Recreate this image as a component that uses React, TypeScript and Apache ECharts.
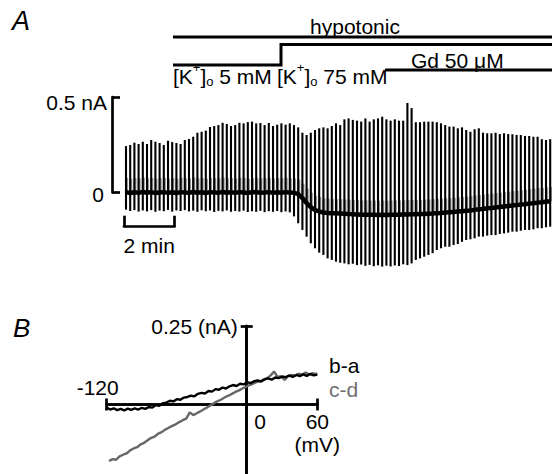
import React, { useEffect, useRef } from 'react';
import * as echarts from 'echarts';

const FONT = '"Liberation Sans", Arial, Helvetica, sans-serif';
const FS = 21;

// ---- Panel A: ramp sweeps (one per ~10 s), current in nA ----
const sweepTop = [
  0.243, 0.249, 0.261, 0.254, 0.266, 0.254, 0.275, 0.266, 0.259, 0.249,
  0.271, 0.264, 0.259, 0.254, 0.275, 0.280, 0.292, 0.313, 0.318, 0.324,
  0.343, 0.348, 0.353, 0.365, 0.359, 0.348, 0.353, 0.365, 0.362, 0.369,
  0.371, 0.362, 0.364, 0.353, 0.364, 0.348, 0.355, 0.362, 0.355, 0.362,
  0.353, 0.341, 0.313, 0.301, 0.313, 0.327, 0.336, 0.341, 0.336, 0.348,
  0.362, 0.353, 0.383, 0.388, 0.380, 0.376, 0.371, 0.388, 0.371, 0.383,
  0.388, 0.397, 0.383, 0.376, 0.383, 0.376, 0.376, 0.469, 0.442, 0.368,
  0.368, 0.371, 0.371, 0.371, 0.368, 0.362, 0.353, 0.345, 0.345, 0.336,
  0.341, 0.327, 0.318, 0.331, 0.336, 0.313, 0.310, 0.310, 0.313, 0.306,
  0.310, 0.306, 0.305, 0.301, 0.301, 0.296, 0.296, 0.292, 0.292, 0.279,
  0.275, 0.279,
];
const sweepBottom = [
  -0.090, -0.097, -0.092, -0.100, -0.094, -0.099, -0.092, -0.101, -0.095, -0.098,
  -0.091, -0.100, -0.094, -0.097, -0.092, -0.099, -0.095, -0.101, -0.093, -0.098,
  -0.094, -0.102, -0.096, -0.099, -0.094, -0.101, -0.097, -0.100, -0.095, -0.102,
  -0.098, -0.101, -0.096, -0.103, -0.098, -0.101, -0.097, -0.103, -0.099, -0.104,
  -0.125, -0.161, -0.196, -0.231, -0.266, -0.292, -0.315, -0.327, -0.345, -0.353,
  -0.362, -0.368, -0.371, -0.376, -0.373, -0.380, -0.377, -0.384, -0.379, -0.386,
  -0.381, -0.388, -0.383, -0.387, -0.382, -0.385, -0.376, -0.380, -0.371, -0.353,
  -0.345, -0.336, -0.327, -0.318, -0.301, -0.292, -0.284, -0.284, -0.275, -0.270,
  -0.258, -0.249, -0.245, -0.240, -0.231, -0.231, -0.226, -0.223, -0.223, -0.217,
  -0.214, -0.210, -0.205, -0.205, -0.200, -0.196, -0.196, -0.193, -0.187, -0.187,
  -0.182, -0.179,
];
const holdingCurrent = [
  0.002, -0.003, 0.001, -0.002, 0.003, -0.001, 0.002, -0.003, 0.000, 0.002,
  -0.002, 0.001, -0.003, 0.002, 0.000, -0.002, 0.003, -0.001, 0.001, -0.003,
  0.002, 0.000, -0.002, 0.003, -0.001, 0.001, -0.002, 0.002, 0.000, -0.003,
  0.001, 0.002, -0.001, 0.000, 0.002, -0.002, 0.001, -0.001, 0.002, 0.000,
  -0.002, -0.008, -0.029, -0.055, -0.076, -0.092, -0.099, -0.105, -0.107, -0.108,
  -0.109, -0.110, -0.111, -0.113, -0.114, -0.115, -0.116, -0.116, -0.117, -0.117,
  -0.118, -0.117, -0.118, -0.117, -0.116, -0.116, -0.115, -0.115, -0.114, -0.114,
  -0.113, -0.112, -0.111, -0.110, -0.108, -0.107, -0.105, -0.104, -0.102, -0.100,
  -0.098, -0.096, -0.094, -0.091, -0.088, -0.086, -0.083, -0.081, -0.078, -0.076,
  -0.073, -0.071, -0.068, -0.066, -0.063, -0.061, -0.058, -0.056, -0.053, -0.051,
  -0.048, -0.046,
];
// height of the dense (slow) part of each ramp above the holding current
const rampDenseHeight = 0.075;
const sweepMarks = ['a', 'b', 'c', 'd'];
const sweepMarkIndex = [6.9, 38.6, 64.8, 100];
const sweepMarkLevel = [0.296, 0.411, 0.442, 0.348];
const currentScaleLabels = ['0', '0.5 nA'];
const timeScaleLabel = '2 min';

// ---- Panel B: I-V difference curves ----
const ivVoltageBA = [
  -120, -117, -114, -111, -108, -105, -102, -99, -96, -93, -90, -87, -84, -81, -78, -75,
  -72, -69, -66, -63, -60, -57, -54, -51, -48, -45, -42, -39, -36, -33, -30, -27, -24,
  -21, -18, -15, -12, -9, -6, -3, 0, 3, 6, 9, 12, 15, 18, 21, 24, 27, 30, 33, 36, 39,
  42, 45, 48, 51, 54, 57, 60,
];
const ivCurrentBA = [
  -0.010, -0.016, -0.012, -0.018, -0.014, -0.019, -0.013, -0.017, -0.012, -0.016,
  -0.011, -0.014, -0.008, -0.010, -0.002, -0.004, 0.004, 0.006, 0.012, 0.010,
  0.017, 0.015, 0.022, 0.024, 0.028, 0.026, 0.034, 0.037, 0.035, 0.043,
  0.041, 0.049, 0.047, 0.054, 0.051, 0.058, 0.062, 0.059, 0.066, 0.064,
  0.071, 0.068, 0.074, 0.077, 0.073, 0.080, 0.083, 0.079, 0.086, 0.084,
  0.089, 0.087, 0.092, 0.088, 0.094, 0.090, 0.096, 0.091, 0.097, 0.093,
  0.095,
];
const ivVoltageCD = [
  -118, -115, -112, -109, -106, -103, -100, -97, -94, -91, -88, -85, -82, -79, -76, -73,
  -70, -67, -64, -61, -58, -55, -52, -49, -46, -43, -40, -37, -34, -31, -28, -25, -22,
  -19, -16, -13, -10, -7, -4, -1, 2, 5, 8, 11, 14, 17, 20, 23, 26, 29, 32, 35, 38, 41,
  44, 47, 50, 53, 56, 59, 60,
];
const ivCurrentCD = [
  -0.180, -0.174, -0.176, -0.165, -0.160, -0.156, -0.146, -0.140, -0.136, -0.127,
  -0.122, -0.114, -0.106, -0.102, -0.093, -0.088, -0.080, -0.074, -0.068, -0.063,
  -0.056, -0.050, -0.045, -0.025, -0.034, -0.028, -0.022, -0.015, -0.009, -0.002,
  0.005, 0.011, 0.016, 0.023, 0.028, 0.034, 0.040, 0.045, 0.051, 0.056,
  0.062, 0.066, 0.071, 0.074, 0.079, 0.084, 0.092, 0.105, 0.088, 0.090,
  0.078, 0.091, 0.094, 0.092, 0.098, 0.095, 0.102, 0.096, 0.100, 0.097,
  0.099,
];
const ivSeriesNames = ['b-a', 'c-d'];
const ivColors = ['#000000', '#676767'];
const ivXLabelLeft = '-120';
const ivXLabelZero = '0';
const ivXLabelRight = '60';
const ivXUnit = '(mV)';
const ivYLabel = '0.25 (nA)';

// ---- Solution bars ----
const barHypotonic = 'hypotonic';
const barK5 = '5 mM';
const barK75 = '75 mM';
const barGd = 'Gd 50 \u03bcM';

const BLACK = '#000';
const AXW = 2.7;

export default function App() {
  const ref = useRef<HTMLDivElement>(null);
  useEffect(() => {
    if (!ref.current) return;
    const chart = echarts.init(ref.current, null, { renderer: 'svg' });
    const axisLineStyle = { color: BLACK, width: AXW };
    const txt = { fontFamily: FONT, fontSize: FS, color: BLACK };
    const kRich = {
      sup: { fontSize: 13, fontFamily: FONT, padding: [0, 0, 18, 0], lineHeight: 13 },
      sub: { fontSize: 13, fontFamily: FONT, padding: [11, 0, 0, 0], lineHeight: 13 },
    };

    const option: any = {
      animation: false,
      textStyle: { fontFamily: FONT },
      grid: [
        { left: 126, top: 97, width: 424.2, height: 95.5, outerBoundsMode: 'none' },
        { left: 124, top: 150, width: 50.5, height: 76.7, outerBoundsMode: 'none' },
        { left: 106.7, top: 326, width: 210.6, height: 78.5, outerBoundsMode: 'none' },
        { left: 246.7, top: 326, width: 70.6, height: 157, outerBoundsMode: 'none' },
      ],
      xAxis: [
        { gridIndex: 0, type: 'value', min: 0, max: sweepTop.length - 1, show: false },
        {
          gridIndex: 1, type: 'value', min: 0, max: 2, interval: 2, position: 'bottom',
          axisLine: { show: true, onZero: false, lineStyle: axisLineStyle },
          axisTick: { show: true, inside: true, length: 11, lineStyle: axisLineStyle },
          axisLabel: { show: false }, splitLine: { show: false },
          name: timeScaleLabel, nameLocation: 'middle', nameGap: 8,
          nameTextStyle: { ...txt },
        },
        {
          gridIndex: 2, type: 'value', min: -120, max: 60, interval: 180, position: 'bottom',
          axisLine: { show: true, onZero: false, lineStyle: axisLineStyle },
          axisTick: { show: true, inside: false, length: 6, lineStyle: axisLineStyle },
          axisLabel: {
            show: true, customValues: [0, 60], margin: 5, ...txt,
            formatter: (v: number) => (v === 0 ? `{z|${ivXLabelZero}}` : `{n|${ivXLabelRight}}\n{n|${ivXUnit}}`),
            rich: {
              z: { fontSize: FS, fontFamily: FONT, color: BLACK, padding: [0, 0, 0, 26], lineHeight: 23 },
              n: { fontSize: FS, fontFamily: FONT, color: BLACK, lineHeight: 23 },
            },
          },
          splitLine: { show: false },
        },
        {
          gridIndex: 2, type: 'value', min: -120, max: 60, interval: 180, position: 'bottom',
          axisLine: { show: true, onZero: false, lineStyle: axisLineStyle },
          axisTick: { show: true, inside: true, length: 6, lineStyle: axisLineStyle },
          axisLabel: {
            show: true, inside: true, customValues: [-120], margin: 7, ...txt,
            padding: [0, 18, 0, 0],
            formatter: () => ivXLabelLeft,
          },
          splitLine: { show: false },
        },
        { gridIndex: 3, type: 'value', min: 0, max: 1, show: false },
      ],
      yAxis: [
        {
          gridIndex: 0, type: 'value', min: 0, max: 0.5, interval: 0.5, position: 'left', offset: 14,
          axisLine: { show: true, onZero: false, lineStyle: axisLineStyle },
          axisTick: { show: true, inside: true, length: 8, lineStyle: axisLineStyle },
          axisLabel: {
            show: true, margin: 5, ...txt,
            formatter: (v: number) => (v === 0 ? `{z|${currentScaleLabels[0]}}` : `{t|${currentScaleLabels[1]}}`),
            rich: {
              z: { fontSize: FS, fontFamily: FONT, color: BLACK, padding: [3, 3, 0, 0] },
              t: { fontSize: FS, fontFamily: FONT, color: BLACK, padding: [10, 0, 0, 0] },
            },
          },
          splitLine: { show: false },
        },
        { gridIndex: 1, type: 'value', min: 0, max: 1, show: false },
        { gridIndex: 2, type: 'value', min: 0, max: 0.25, show: false },
        {
          gridIndex: 3, type: 'value', min: -0.25, max: 0.25, interval: 0.25, position: 'left',
          axisLine: { show: true, onZero: false, lineStyle: axisLineStyle },
          axisTick: { show: true, inside: false, length: 6, customValues: [0.25], lineStyle: axisLineStyle },
          axisLabel: { show: true, customValues: [0.25], margin: 9, ...txt, formatter: () => ivYLabel },
          splitLine: { show: false },
        },
        {
          gridIndex: 3, type: 'value', min: -0.25, max: 0.25, interval: 0.25, position: 'left',
          axisLine: { show: true, onZero: false, lineStyle: axisLineStyle },
          axisTick: { show: true, inside: true, length: 6, customValues: [0.25], lineStyle: axisLineStyle },
          axisLabel: { show: false },
          splitLine: { show: false },
        },
      ],
      legend: {
        data: [
          { name: ivSeriesNames[0], textStyle: { color: ivColors[0] } },
          { name: ivSeriesNames[1], textStyle: { color: '#707070' } },
        ],
        orient: 'vertical', left: 324, top: 355, icon: 'none', itemWidth: 0, itemHeight: 0,
        itemGap: 3, padding: 0, selectedMode: false,
        textStyle: { fontSize: FS, fontFamily: FONT, lineHeight: 21 },
      },
      series: [
        {
          type: 'custom', xAxisIndex: 0, yAxisIndex: 0, clip: false, z: 2,
          data: sweepTop.map((t, i) => [i, sweepBottom[i], t, holdingCurrent[i]]),
          renderItem: (_p: any, api: any) => {
            const x = api.value(0);
            const a = api.coord([x, api.value(1)]);
            const b = api.coord([x, api.value(2)]);
            const h0 = api.coord([x, api.value(3)]);
            const h1 = api.coord([x, api.value(3) + rampDenseHeight]);
            return {
              type: 'group',
              children: [
                {
                  type: 'line',
                  shape: { x1: h0[0] + 0.6, y1: h0[1], x2: h1[0] + 0.6, y2: h1[1] },
                  style: { stroke: '#9c9c9c', lineWidth: 3 },
                },
                {
                  type: 'line',
                  shape: { x1: a[0], y1: a[1], x2: b[0], y2: b[1] },
                  style: { stroke: BLACK, lineWidth: 2.1 },
                },
              ],
            };
          },
        },
        {
          type: 'line', xAxisIndex: 0, yAxisIndex: 0, clip: false, z: 3, symbol: 'none',
          data: holdingCurrent.map((v, i) => [i, v]),
          lineStyle: { color: BLACK, width: 4.5 },
        },
        {
          type: 'scatter', xAxisIndex: 0, yAxisIndex: 0, symbolSize: 1, z: 4,
          itemStyle: { opacity: 0 },
          data: sweepMarks.map((m, i) => ({ name: m, value: [sweepMarkIndex[i], sweepMarkLevel[i]] })),
          label: { show: true, position: 'inside', formatter: '{b}', ...txt },
        },
        {
          type: 'line', name: ivSeriesNames[0], xAxisIndex: 2, yAxisIndex: 2, symbol: 'none', z: 3, clip: false,
          data: ivVoltageBA.map((v, i) => [v, ivCurrentBA[i]]),
          lineStyle: { color: ivColors[0], width: 2.4 }, itemStyle: { color: ivColors[0] },
        },
        {
          type: 'line', name: ivSeriesNames[1], xAxisIndex: 2, yAxisIndex: 2, symbol: 'none', z: 2, clip: false,
          data: ivVoltageCD.map((v, i) => [v, ivCurrentCD[i]]),
          lineStyle: { color: ivColors[1], width: 2.4 }, itemStyle: { color: ivColors[1] },
        },
      ],
      graphic: [
        { type: 'text', left: 12, top: 7, style: { text: 'A', font: `italic 27px ${FONT}`, fill: BLACK } },
        { type: 'text', left: 13, top: 315, style: { text: 'B', font: `italic 26px ${FONT}`, fill: BLACK } },
        { type: 'text', x: 355, y: 26, style: { text: barHypotonic, fontFamily: FONT, fontSize: FS, fill: BLACK, align: 'center', verticalAlign: 'middle' } },
        { type: 'line', shape: { x1: 173, y1: 37, x2: 552, y2: 37 }, style: { stroke: BLACK, lineWidth: 3 } },
        { type: 'polyline', shape: { points: [[173, 65], [281, 65], [281, 44.5], [552, 44.5]] }, style: { stroke: BLACK, lineWidth: 3, fill: 'none' } },
        { type: 'line', shape: { x1: 385, y1: 70, x2: 552, y2: 70 }, style: { stroke: BLACK, lineWidth: 3 } },
        {
          type: 'text', x: 173, y: 76,
          style: { text: `[K{sup|+}]{sub|o} ${barK5}`, fontFamily: FONT, fontSize: FS, fill: BLACK, verticalAlign: 'middle', rich: kRich },
        },
        {
          type: 'text', x: 277, y: 76,
          style: { text: `[K{sup|+}]{sub|o} ${barK75}`, fontFamily: FONT, fontSize: FS, fill: BLACK, verticalAlign: 'middle', rich: kRich },
        },
        { type: 'text', x: 411, y: 60, style: { text: barGd, fontFamily: FONT, fontSize: FS, fill: BLACK, verticalAlign: 'middle' } },
      ],
    };
    chart.setOption(option);
    return () => chart.dispose();
  }, []);
  return <div ref={ref} style={{ position: 'absolute', left: 0, top: 0, width: 552, height: 474, background: '#fff' }} />;
}
